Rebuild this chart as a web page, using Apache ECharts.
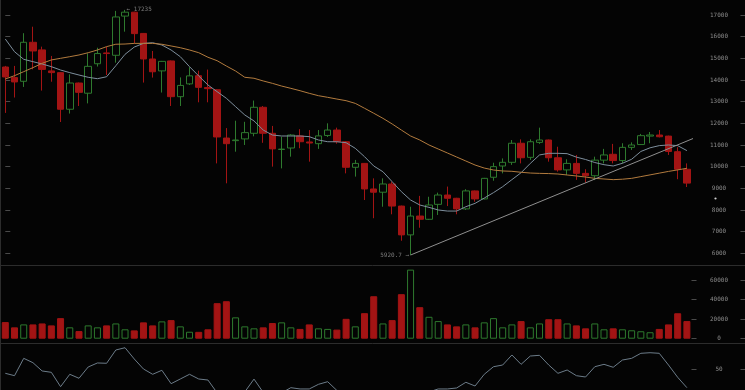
<!DOCTYPE html>
<html><head><meta charset="utf-8">
<script src="https://cdn.jsdelivr.net/npm/echarts@6/dist/echarts.min.js"></script>
<style>html,body{margin:0;padding:0;background:#040404;}#c{width:745px;height:390px;}</style>
</head><body><div id="c"></div>
<script>
const categories = [
'2017-12-24','2017-12-25','2017-12-26','2017-12-27','2017-12-28','2017-12-29','2017-12-30','2017-12-31',
'2018-01-01','2018-01-02','2018-01-03','2018-01-04','2018-01-05','2018-01-06','2018-01-07','2018-01-08','2018-01-09','2018-01-10',
'2018-01-11','2018-01-12','2018-01-13','2018-01-14','2018-01-15','2018-01-16','2018-01-17','2018-01-18','2018-01-19','2018-01-20',
'2018-01-21','2018-01-22','2018-01-23','2018-01-24','2018-01-25','2018-01-26','2018-01-27','2018-01-28','2018-01-29','2018-01-30','2018-01-31',
'2018-02-01','2018-02-02','2018-02-03','2018-02-04','2018-02-05','2018-02-06','2018-02-07','2018-02-08','2018-02-09','2018-02-10',
'2018-02-11','2018-02-12','2018-02-13','2018-02-14','2018-02-15','2018-02-16','2018-02-17','2018-02-18','2018-02-19','2018-02-20',
'2018-02-21','2018-02-22','2018-02-23','2018-02-24','2018-02-25','2018-02-26','2018-02-27','2018-02-28',
'2018-03-01','2018-03-02','2018-03-03','2018-03-04','2018-03-05','2018-03-06','2018-03-07','2018-03-08'];

const opens  = [14600,14110,13940,15740,15390,14420,14340,12650,13860,13390,14750,15250,15140,16950,17130,16150,14970,14420,14880,13230,13820,14200,13650,13550,11320,11200,11280,11540,12740,11540,10790,10860,11420,11140,11060,11440,11690,11150,9970,10150,8970,8820,9200,8180,6850,7720,7570,8260,8690,8540,8050,8880,8510,9510,10030,10200,11080,10430,11120,11230,10410,9850,10150,9690,9580,10300,10570,10280,10890,11020,11410,11460,11410,10690,9880];
const closes = [14140,13910,15740,15340,14490,14340,12650,13860,13430,14630,15220,15220,16910,17130,16140,14970,14380,14860,13230,13750,14190,13660,13600,11370,11060,11230,11570,12740,11540,10820,10810,11460,11150,11090,11420,11690,11150,9970,10150,8970,8820,9200,8180,6850,7720,7570,8230,8690,8540,8050,8880,8510,9460,10000,10200,11080,10410,11150,11230,10410,9850,10150,9690,9580,10300,10540,10280,10890,11000,11430,11460,11380,10700,9880,9240];
const lows   = [12480,13190,13680,14490,13510,13920,12060,12450,12800,12920,14620,14230,14800,16230,15690,13880,14110,13420,12800,12800,13770,12970,12970,10150,9230,10690,11000,11400,11100,10000,9920,10460,10850,10230,10820,11370,11060,9690,9540,8460,7620,8150,7800,6580,5920.7,7180,7540,7770,8180,7800,8000,8380,8490,9350,9690,10080,10150,10310,11050,10230,9770,9620,9390,9260,9380,10150,10150,10150,10770,11000,11080,11350,10540,9420,9060];
const highs  = [14650,14650,16160,16460,15540,15110,14360,14260,13880,15230,15490,15540,17190,17235,17150,16170,15340,14880,14900,14120,14590,14430,14480,13570,11780,12120,12070,13050,12800,11880,11380,11500,11730,11690,11690,12000,11800,11180,10310,10170,9460,9460,9310,8200,8150,8650,8610,8800,9080,8560,8960,8900,9480,10180,10380,11230,11260,11260,11800,11250,10920,10340,10540,9880,10460,10820,11050,11080,11120,11510,11600,11690,11430,10900,10150];

const volumes = [17000,11600,14600,14600,15600,13600,21000,11600,7800,13600,11600,13600,15600,9600,8500,16700,13600,17700,19000,12600,7100,7000,9600,36300,38300,21800,12600,10600,11600,16000,16700,11600,10000,14600,10600,10000,9300,20300,12600,26100,43400,15600,19000,45500,70600,32200,22400,18000,14600,12600,14600,11600,16700,21000,11600,14600,18000,11600,15600,19900,19900,15600,13600,10600,15600,9600,10600,9600,8600,7600,6600,10000,14600,26000,18000];

const maShort = [15890,15305,14955,14845,14740,14615,14460,14340,14230,14125,14060,14150,14660,15185,15520,15690,15720,15615,15385,15075,14615,14185,13770,13460,13155,12770,12385,12110,11690,11460,11415,11415,11415,11385,11230,11150,11150,11105,10845,10460,10030,9765,9305,8845,8460,8230,8120,8000,7950,7950,8150,8305,8550,8800,9075,9400,9720,10150,10540,10615,10615,10600,10440,10330,10190,10090,10030,10155,10340,10700,10870,10970,11000,10970,10740];
const maLong  = [14045,14200,14385,14570,14770,14925,15000,15075,15155,15260,15385,15540,15650,15660,15690,15690,15690,15650,15570,15490,15385,15260,15050,14890,14645,14415,14125,14080,13955,13845,13720,13615,13505,13385,13275,13200,13120,13045,12920,12695,12465,12230,11970,11690,11415,11230,11000,10815,10630,10445,10260,10075,9935,9845,9800,9785,9740,9705,9690,9680,9660,9615,9570,9520,9460,9430,9400,9420,9460,9540,9620,9700,9780,9850,9925];
const oscillator = [42.7,37.9,73,64.2,47.4,44.7,15.6,40.7,32.6,55.5,63.6,63,89.9,94.5,71.7,51.4,40.7,48.8,21.7,31.2,40.7,31.2,29.1,3,2,3,5,31,4,2,3,13.6,11,11,20.4,25.7,8,2,4,2,1,3,2,1,3,2,5,11,11,13,24.5,17,40.7,56,59.5,79.8,60.9,77.7,79.1,59.5,42.7,49.4,37.9,35.2,56,60.9,54.9,69.6,73,83.2,84.4,83.2,59.5,34.6,13.6];

const trendLine = [[44, 5920.7], [75, 11356]];
const priceAxis = {min: 6000, max: 17000, interval: 1000};
const volumeAxis = {min: 0, max: 60000, interval: 20000};
// lower panel continues below the picture's edge: only its upper part (from ~9 up to 100) is visible
const oscAxis = {min: 8.9, max: 100, labels: [50]};

const RED = '#a31414', GREEN = '#2e7a2e', BG = '#040404';
const labelFont = {color: '#8c8c8c', fontSize: 6, fontFamily: 'DejaVu Sans Mono'};
const tickStyle = {show: true, length: 5, lineStyle: {color: '#4a4a4a', width: 1}};

function rightAxes(gridIndex, cfg, extraLabel, extraTick) {
  const base = {
    type: 'value', gridIndex, position: 'right', min: cfg.min, max: cfg.max,
    splitLine: {show: false}, axisLine: {show: false}
  };
  if (cfg.interval) base.interval = cfg.interval;
  const a = Object.assign({}, base, {
    axisTick: Object.assign({}, tickStyle, extraTick || {}),
    axisLabel: Object.assign({show: true, align: 'center', margin: 27.5, formatter: v => String(v)}, labelFont, extraLabel || {})
  });
  const b = Object.assign({}, base, {
    offset: 49,
    axisTick: Object.assign({}, tickStyle, extraTick || {}),
    axisLabel: {show: false}
  });
  return [a, b];
}

const candleData = opens.map((o, i) => [o, closes[i], lows[i], highs[i]]);
const volData = volumes.map((v, i) => ({
  value: v,
  itemStyle: closes[i] >= opens[i]
    ? {color: BG, borderColor: GREEN, borderWidth: 1}
    : {color: RED, borderColor: RED, borderWidth: 1}
}));
const maxHigh = Math.max.apply(null, highs);
const minLow = Math.min.apply(null, lows);
const extremeLabels = [
  {value: [highs.indexOf(maxHigh), maxHigh], label: {position: 'right', formatter: p => '\u2190 ' + p.value[1]}},
  {value: [lows.indexOf(minLow), minLow], label: {position: 'left', formatter: p => p.value[1] + ' \u2192'}}
];

const chart = echarts.init(document.getElementById('c'), null, {renderer: 'canvas'});
const gridBase = {left: 0.7, right: 53.5};
chart.setOption({
  animation: false,
  backgroundColor: BG,
  grid: [
    Object.assign({top: 15, height: 238.3}, gridBase),
    Object.assign({top: 280, height: 58.7}, gridBase),
    Object.assign({top: 345, height: 45}, gridBase)
  ],
  xAxis: [
    {type: 'category', gridIndex: 0, data: categories, show: false},
    {type: 'value', gridIndex: 0, min: -0.5, max: categories.length - 0.5, show: false},
    {type: 'category', gridIndex: 1, data: categories, show: false},
    {type: 'category', gridIndex: 2, data: categories, show: false}
  ],
  yAxis: [].concat(
    rightAxes(0, priceAxis),
    rightAxes(1, volumeAxis),
    rightAxes(2, oscAxis, {customValues: oscAxis.labels}, {customValues: oscAxis.labels})
  ),
  graphic: [
    {type: 'line', shape: {x1: 0, y1: 265.5, x2: 745, y2: 265.5}, style: {stroke: '#2c2c2c', lineWidth: 1}, silent: true},
    {type: 'line', shape: {x1: 0, y1: 343.5, x2: 745, y2: 343.5}, style: {stroke: '#2c2c2c', lineWidth: 1}, silent: true},
    {type: 'line', shape: {x1: 0.5, y1: 0, x2: 0.5, y2: 390}, style: {stroke: '#2c2c2c', lineWidth: 1}, silent: true},
    {type: 'circle', shape: {cx: 715.5, cy: 198.5, r: 1.1}, style: {fill: '#d0d0d0'}, silent: true}
  ],
  series: [
    {
      type: 'candlestick', xAxisIndex: 0, yAxisIndex: 0, data: candleData,
      barWidth: 7, clip: false,
      itemStyle: {color: BG, color0: RED, borderColor: GREEN, borderColor0: RED, borderWidth: 1}
    },
    {type: 'line', xAxisIndex: 0, yAxisIndex: 0, data: maShort, symbol: 'none', lineStyle: {color: '#7d8e9c', width: 1}},
    {type: 'line', xAxisIndex: 0, yAxisIndex: 0, data: maLong, symbol: 'none', lineStyle: {color: '#b27b3e', width: 1}},
    {type: 'line', xAxisIndex: 1, yAxisIndex: 0, data: trendLine, symbol: 'none', clip: false, lineStyle: {color: '#8f8f8f', width: 1}},
    {
      type: 'scatter', xAxisIndex: 0, yAxisIndex: 0, data: extremeLabels, symbolSize: 1, clip: false,
      itemStyle: {color: 'rgba(0,0,0,0)'},
      label: {show: true, distance: 1, color: '#9a9a9a', fontSize: 6, fontFamily: 'DejaVu Sans Mono'}
    },
    {type: 'bar', xAxisIndex: 2, yAxisIndex: 2, data: volData, barWidth: 7, clip: false},
    {type: 'line', xAxisIndex: 3, yAxisIndex: 4, data: oscillator, symbol: 'none', clip: true, lineStyle: {color: '#6c7c89', width: 1}}
  ]
});
</script></body></html>
